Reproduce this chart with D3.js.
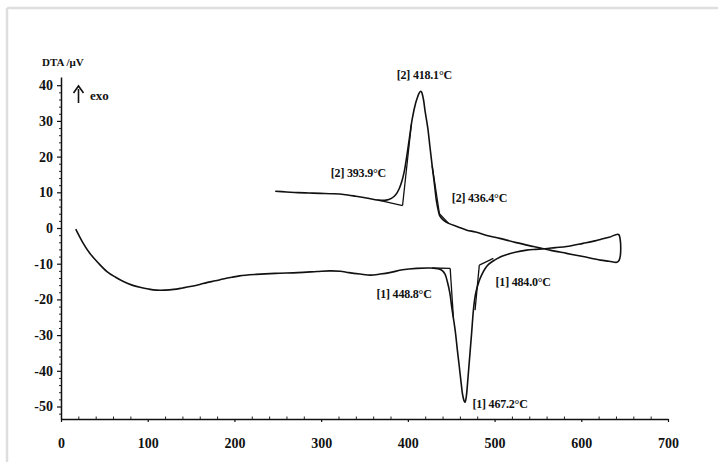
<!DOCTYPE html>
<html>
<head>
<meta charset="utf-8">
<script src="https://cdn.jsdelivr.net/npm/d3@7/dist/d3.min.js"></script>
<style>
  html, body { margin: 0; padding: 0; background: #fff; }
  svg { display: block; }
  text { font-family: "Liberation Serif", "Times New Roman", serif; font-weight: bold; fill: #111; }
</style>
</head>
<body>
<svg id="chart" width="718" height="462"></svg>
<script>
// ---------------- data ----------------
const xTicks = [0, 100, 200, 300, 400, 500, 600, 700];
const yTicks = [40, 30, 20, 10, 0, -10, -20, -30, -40, -50];

// heating run (curve [1])
const heatT = [17, 25, 33, 43, 53, 63, 72, 82, 91, 101, 110, 120, 130, 140, 149, 160, 168, 178, 187, 197, 206, 225, 247, 273, 295, 310, 322, 332, 345, 357, 368, 379, 394, 410, 426, 436, 440, 443, 445.5, 448.5, 450.5, 453, 455, 457, 459.3, 461.5, 463, 465, 466, 467.5, 469, 471, 473.5, 476, 478.5, 482, 485, 489, 493, 500, 506, 511, 525, 537, 545, 558, 570, 583, 602, 616, 622, 632, 643];
const heatV = [-0.3, -4, -7, -9.8, -12.2, -13.8, -15, -16, -16.6, -17.1, -17.4, -17.4, -17.2, -16.8, -16.4, -15.8, -15.3, -14.8, -14.3, -13.8, -13.4, -13.0, -12.7, -12.5, -12.2, -12.0, -12.1, -12.5, -12.9, -13.2, -12.9, -12.5, -11.7, -11.3, -11.2, -11.5, -12.0, -13.0, -15.0, -18.3, -22, -26, -29.5, -34, -38.8, -43.5, -46.5, -48.5, -48.8, -47, -43, -37, -29.5, -22, -18, -15, -13.2, -11.4, -10.2, -9.0, -8.2, -7.7, -6.7, -6.2, -6.0, -5.8, -5.5, -5.2, -4.3, -3.6, -3.2, -2.6, -1.8];

// turning point at the maximum temperature
const turnT = [645, 645.5, 645, 643.5];
const turnV = [-3.5, -5.5, -7.8, -9.1];

// cooling run (curve [2])
const coolT = [641, 632, 622, 602, 583, 564, 545, 525, 506, 490, 478, 468, 458, 447, 441, 437, 435, 433, 431, 428, 425.5, 423, 420, 418, 416, 415, 413, 411, 409, 405, 402, 399, 396, 393, 390, 386, 381, 375, 366, 352, 340, 326, 313, 299, 286, 273, 260, 247];
const coolV = [-9.6, -9.3, -9.0, -8.0, -7.1, -6.2, -5.2, -4.1, -2.9, -2.0, -1.1, -0.6, 0.3, 1.3, 2.2, 3.3, 5.0, 7.5, 11.6, 17.5, 22.7, 28, 32.5, 36, 38, 38.3, 37.8, 36.5, 35, 30.5, 25.5, 20.5, 16, 13, 11, 9.3, 8.3, 7.8, 7.8, 8.4, 8.9, 9.4, 9.6, 9.7, 9.8, 9.9, 10.1, 10.3];

// onset / endset construction lines: [t1, v1, t2, v2]
const tangentT1 = [366, 393.9, 428, 436.4, 428, 448.8, 477.5, 482.4];
const tangentV1 = [7.8, 6.3, 17.5, 4.0, -11.2, -11.3, -23, -10.4];
const tangentT2 = [393.9, 404, 436.4, 447, 448.8, 452.5, 482.4, 498.6];
const tangentV2 = [6.3, 29, 4.0, 1.3, -11.3, -25, -10.4, -8.5];

// annotation texts and their centre points (temperature, signal)
const labelText = ["[2] 418.1°C", "[2] 393.9°C", "[2] 436.4°C", "[1] 448.8°C", "[1] 484.0°C", "[1] 467.2°C"];
const labelT = [419, 343, 482.6, 395.6, 533, 506.3];
const labelV = [42.9, 15.3, 8.3, -18.4, -15.2, -49.4];

// ---------------- drawing ----------------
const svg = d3.select("#chart");

// light frame of the scanned figure
svg.append("line").attr("x1", 7).attr("y1", 8).attr("x2", 718).attr("y2", 8)
  .attr("stroke", "#dedede").attr("stroke-width", 2.5);
svg.append("line").attr("x1", 7).attr("y1", 8).attr("x2", 7).attr("y2", 462)
  .attr("stroke", "#dedede").attr("stroke-width", 2.5);

const x = d3.scaleLinear().domain([0, 700]).range([61, 668]);
const y = d3.scaleLinear().domain([-53.5, 42.3]).range([419, 77]);

// Y axis
const yAxis = d3.axisLeft(y).tickValues(yTicks).tickSize(4).tickSizeOuter(0).tickPadding(4)
  .tickFormat(d => String(d));
const gy = svg.append("g").attr("transform", `translate(${x(0)},0)`).call(yAxis);
gy.select(".domain").attr("stroke", "#111").attr("stroke-width", 1.5);
gy.selectAll(".tick line").attr("stroke", "#111").attr("stroke-width", 1.2);
gy.selectAll(".tick text").attr("font-size", 14).attr("font-family", "Liberation Serif").attr("font-weight", "bold").attr("fill", "#111");
const yMinor = d3.range(-52, 42, 2).filter(v => v % 10 !== 0);
svg.append("g").attr("transform", `translate(${x(0)},0)`)
  .call(d3.axisLeft(y).tickValues(yMinor).tickSize(2).tickFormat(""))
  .call(g => g.select(".domain").remove())
  .selectAll("line").attr("stroke", "#222").attr("stroke-width", 1);

// X axis
const xAxis = d3.axisBottom(x).tickValues(xTicks).tickSize(3).tickSizeOuter(0).tickPadding(16)
  .tickFormat(d => String(d));
const gx = svg.append("g").attr("transform", `translate(0,${y(-53.5)})`).call(xAxis);
gx.select(".domain").attr("stroke", "#111").attr("stroke-width", 1.5);
gx.selectAll(".tick line").attr("stroke", "#111").attr("stroke-width", 1.2);
gx.selectAll(".tick text").attr("font-size", 14).attr("font-family", "Liberation Serif").attr("font-weight", "bold").attr("fill", "#111");
const xMinor = d3.range(20, 700, 20).filter(v => v % 100 !== 0);
svg.append("g").attr("transform", `translate(0,${y(-53.5)})`)
  .call(d3.axisTop(x).tickValues(xMinor).tickSize(2.5).tickFormat(""))
  .call(g => g.select(".domain").remove())
  .selectAll("line").attr("stroke", "#222").attr("stroke-width", 1);

// Curve
const pts = [];
heatT.forEach((t, i) => pts.push([t, heatV[i]]));
turnT.forEach((t, i) => pts.push([t, turnV[i]]));
coolT.forEach((t, i) => pts.push([t, coolV[i]]));

const line = d3.line().x(d => x(d[0])).y(d => y(d[1])).curve(d3.curveCatmullRom.alpha(0.5));
svg.append("path").datum(pts).attr("d", line)
  .attr("fill", "none").attr("stroke", "#111").attr("stroke-width", 1.6)
  .attr("stroke-linejoin", "round");

// Construction lines
tangentT1.forEach((t, i) => {
  svg.append("line")
    .attr("x1", x(t)).attr("y1", y(tangentV1[i]))
    .attr("x2", x(tangentT2[i])).attr("y2", y(tangentV2[i]))
    .attr("stroke", "#111").attr("stroke-width", 1.3);
});

// Annotations
labelText.forEach((s, i) => {
  svg.append("text").attr("x", x(labelT[i])).attr("y", y(labelV[i]))
    .attr("text-anchor", "middle").attr("dominant-baseline", "central")
    .attr("font-size", 12).attr("letter-spacing", -0.2).text(s);
});

// Axis title and exo arrow
svg.append("text").attr("x", 42).attr("y", 66).attr("font-size", 11).text("DTA /μV");
svg.append("line").attr("x1", 78.5).attr("y1", 103).attr("x2", 78.5).attr("y2", 89)
  .attr("stroke", "#111").attr("stroke-width", 1.6);
svg.append("path").attr("d", "M73.5,93 L78.5,86 L83.5,93").attr("fill", "none")
  .attr("stroke", "#111").attr("stroke-width", 1.6);
svg.append("text").attr("x", 90).attr("y", 100).attr("font-size", 13).text("exo");
</script>
</body>
</html>
